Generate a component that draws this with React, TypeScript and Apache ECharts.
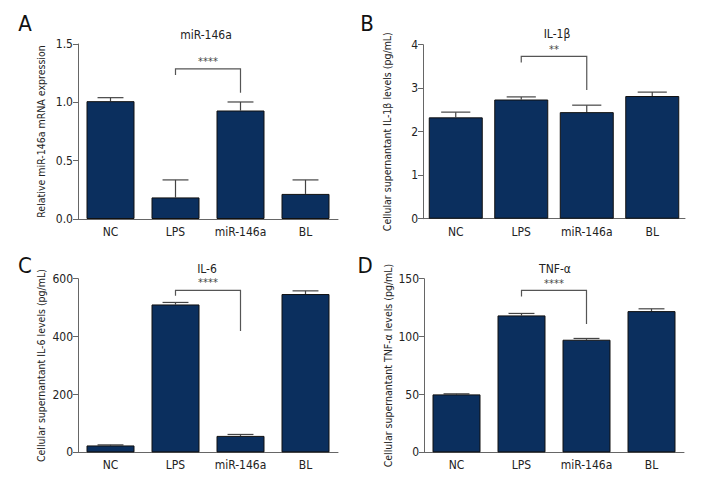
import React, { useEffect, useRef } from "react";
import * as echarts from "echarts";

const categories = ["NC", "LPS", "miR-146a", "BL"];

const miRValues = [1.01, 0.185, 0.93, 0.215];
const miRErrors = [1.04, 0.335, 1.003, 0.335];

const il1bValues = [2.33, 2.74, 2.45, 2.82];
const il1bErrors = [2.45, 2.8, 2.61, 2.91];

const il6Values = [24, 511, 57, 547];
const il6Errors = [26, 518, 62, 558];

const tnfValues = [50.1, 118.3, 97.3, 122];
const tnfErrors = [50.6, 120, 98.4, 124];

const panelTitles = ["miR-146a", "IL-1β", "IL-6", "TNF-α"];
const panelLetters = ["A", "B", "C", "D"];
const yNames = [
  "Relative miR-146a mRNA expression",
  "Cellular supernantant IL-1β levels (pg/mL)",
  "Cellular supernantant IL-6 levels (pg/mL)",
  "Cellular supernantant TNF-α levels (pg/mL)",
];
const yMax = [1.5, 4, 600, 150];
const yInterval = [0.5, 1, 200, 50];
const yDecimals = [1, 0, 0, 0];
const sigStars = ["****", "**", "****", "****"];
// bracket: [x1, x2, horizontal y, left leg bottom, right leg bottom, stars y]
const brackets = [
  [1, 2, 1.286, 1.234, 1.083, 1.35],
  [1, 2, 3.73, 3.59, 2.96, 3.9],
  [1, 2, 560, 541, 419, 588],
  [1, 2, 139.9, 134.7, 110.8, 146],
];

const FONT = "'Liberation Sans Narrow', 'DejaVu Sans Condensed', 'Roboto Condensed', Roboto, sans-serif";
const BAR = "#0b2f5e";
const AXIS = "#666";

const grids = [
  { left: 78, top: 44, width: 260, height: 175 },
  { left: 423, top: 44.7, width: 262, height: 174 },
  { left: 78, top: 278.7, width: 260, height: 173.7 },
  { left: 424, top: 278.7, width: 260, height: 173.7 },
];
const barWidths = [48, 54, 48, 48];
const titlePos = [
  [206, 35],
  [557, 34],
  [207, 269],
  [555, 269],
];
const letterPos = [
  [25, 23],
  [367, 23],
  [25, 265],
  [365, 265],
];

export default function App() {
  const ref = useRef<HTMLDivElement>(null);
  useEffect(() => {
    document.body.style.margin = "0";
    const chart = echarts.init(ref.current!, undefined, { renderer: "svg" });
    const values = [miRValues, il1bValues, il6Values, tnfValues];
    const errors = [miRErrors, il1bErrors, il6Errors, tnfErrors];

    const xAxis = grids.map((_, i) => ({
      type: "category",
      gridIndex: i,
      data: categories,
      axisLine: { lineStyle: { color: AXIS, width: 1 } },
      axisTick: { alignWithLabel: true, interval: 0, length: 4, lineStyle: { color: AXIS } },
      axisLabel: { color: "#222", fontSize: 12, fontFamily: FONT, margin: 7, interval: 0 },
    }));
    const yAxis = grids.map((_, i) => ({
      type: "value",
      gridIndex: i,
      min: 0,
      max: yMax[i],
      interval: yInterval[i],
      name: yNames[i],
      nameLocation: "middle",
      nameGap: i === 0 || i === 2 ? 32 : 31,
      nameTextStyle: { color: "#222", fontSize: 10.5, fontFamily: FONT },
      splitLine: { show: false },
      axisLine: { show: true, lineStyle: { color: AXIS, width: 1 } },
      axisTick: { show: true, length: 5, lineStyle: { color: AXIS } },
      axisLabel: {
        color: "#222",
        fontSize: 12,
        fontFamily: FONT,
        margin: 5,
        formatter: (v: number) => v.toFixed(yDecimals[i]),
      },
    }));

    const series: any[] = [];
    grids.forEach((_, i) => {
      series.push({
        type: "bar",
        xAxisIndex: i,
        yAxisIndex: i,
        data: values[i],
        barWidth: barWidths[i],
        itemStyle: { color: BAR, borderColor: "#111", borderWidth: 1 },
        z: 2,
      });
      series.push({
        type: "custom",
        xAxisIndex: i,
        yAxisIndex: i,
        data: values[i].map((v, k) => [k, v, errors[i][k]]),
        encode: { x: 0, y: [1, 2] },
        z: 1,
        renderItem: (params: any, api: any) => {
          const k = api.value(0);
          const base = api.coord([k, api.value(1)]);
          const top = api.coord([k, api.value(2)]);
          const half = barWidths[i] * 0.27;
          return {
            type: "group",
            children: [
              {
                type: "line",
                shape: { x1: base[0], y1: base[1], x2: top[0], y2: top[1] },
                style: { stroke: "#444", lineWidth: 1.2 },
              },
              {
                type: "line",
                shape: { x1: top[0] - half, y1: top[1], x2: top[0] + half, y2: top[1] },
                style: { stroke: "#444", lineWidth: 1.2 },
              },
            ],
          };
        },
      });
      series.push({
        type: "custom",
        xAxisIndex: i,
        yAxisIndex: i,
        data: [brackets[i]],
        encode: { x: [0, 1], y: [2, 3, 4, 5] },
        z: 3,
        renderItem: (params: any, api: any) => {
          const x1 = api.value(0);
          const x2 = api.value(1);
          const yh = api.value(2);
          const p1 = api.coord([x1, api.value(3)]);
          const p2 = api.coord([x1, yh]);
          const p3 = api.coord([x2, yh]);
          const p4 = api.coord([x2, api.value(4)]);
          const ps = api.coord([x1, api.value(5)]);
          return {
            type: "group",
            children: [
              {
                type: "polyline",
                shape: { points: [p1, p2, p3, p4] },
                style: { stroke: "#555", lineWidth: 1.2, fill: "none" },
              },
              {
                type: "text",
                x: (p2[0] + p3[0]) / 2,
                y: ps[1],
                style: {
                  text: sigStars[i],
                  fill: "#444",
                  font: `11px ${FONT}`,
                  textAlign: "center",
                  textVerticalAlign: "middle",
                },
              },
            ],
          };
        },
      });
    });

    const graphic: any[] = [];
    panelTitles.forEach((t, i) => {
      graphic.push({
        type: "text",
        x: titlePos[i][0],
        y: titlePos[i][1],
        style: {
          text: t,
          fill: "#222",
          font: `12px ${FONT}`,
          textAlign: "center",
          textVerticalAlign: "middle",
        },
      });
      graphic.push({
        type: "text",
        x: letterPos[i][0],
        y: letterPos[i][1],
        style: {
          text: panelLetters[i],
          fill: "#111",
          font: `22px ${FONT}`,
          textAlign: "center",
          textVerticalAlign: "middle",
        },
      });
    });

    chart.setOption({
      animation: false,
      backgroundColor: "#fff",
      grid: grids,
      xAxis,
      yAxis,
      series,
      graphic,
    });
    return () => chart.dispose();
  }, []);
  return <div ref={ref} style={{ width: 720, height: 504 }} />;
}
